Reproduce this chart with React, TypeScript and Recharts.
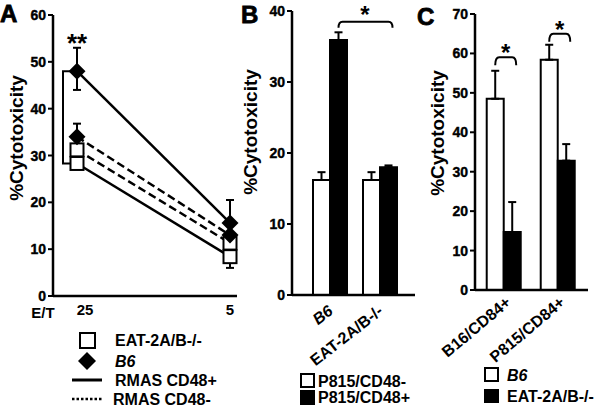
import React from "react";
import { LineChart, Line, BarChart, Bar, XAxis, YAxis, ErrorBar } from "recharts";

const FONT = '"Liberation Sans", Arial, Helvetica, sans-serif';

// A: E/T ratio vs % cytotoxicity on RMAS targets
const ratios = ["25", "5"];
const b6Cd48Pos = [48, 15.6];
const b6Cd48Neg = [34, 13];
const eatCd48Pos = [28.3, 8.4];
const eatCd48Neg = [31.2, 11.3];
// error as [below, above]
const b6Cd48PosErr = [[4, 5], [0, 4.9]];
const b6Cd48NegErr = [[0, 2.8], [0, 0]];
const eatCd48PosErr = [[0, 0], [2.4, 0]];
const eatCd48NegErr = [[0, 0], [0, 0]];
const ticksA = [0, 10, 20, 30, 40, 50, 60];

// B: P815 targets
const effectors = ["B6", "EAT-2A/B-/-"];
const p815Cd48Neg = [16.2, 16.2];
const p815Cd48Pos = [35.9, 18.0];
const p815Cd48NegErr = [1.1, 1.1];
const p815Cd48PosErr = [1.1, 0.25];
const ticksB = [0, 10, 20, 30, 40];

// C: CD84+ targets
const targets = ["B16/CD84+", "P815/CD84+"];
const b6Cd84 = [48.5, 58.4];
const eatCd84 = [14.7, 32.8];
const b6Cd84Err = [7.1, 3.8];
const eatCd84Err = [7.6, 4.2];
const ticksC = [0, 10, 20, 30, 40, 50, 60, 70];

// plot boxes (page px), used for the charts and the annotation overlay
const PA = { left: 53, right: 237, top: 15, bottom: 296, max: 60, padL: 24, padR: 7 };
const PB = { left: 292, right: 415, top: 11, bottom: 295, max: 40, padL: 13, padR: 10, gap: 0.16 };
const PC = { left: 475, right: 588, top: 14, bottom: 290, max: 70, padL: 2, padR: 3, gap: 0.18 };

const yPix = (p: any, v: number) => p.bottom - (v / p.max) * (p.bottom - p.top);
const barCenter = (p: any, group: number, bar: number) => {
  const band = (p.right - p.left - p.padL - p.padR) / 2;
  const off = band * p.gap;
  const w = Math.floor((band - 2 * off) / 2);
  return p.left + p.padL + group * band + off + w * (bar + 0.5);
};

const axisLine = { stroke: "#000", strokeWidth: 2.5 };
const tickLine = { stroke: "#000", strokeWidth: 2 };
const txt = { fontFamily: FONT, fontWeight: 700, fill: "#000" } as const;

const squareDot = (p: any) => (
  <rect key={`sq-${p.dataKey}-${p.index}`} x={p.cx - 6.5} y={p.cy - 6.5} width={13} height={13}
    fill="#fff" stroke="#000" strokeWidth={2} />
);
const diamondDot = (p: any) => (
  <path key={`dm-${p.dataKey}-${p.index}`} fill="#000"
    d={`M${p.cx},${p.cy - 8.5}L${p.cx + 8.5},${p.cy}L${p.cx},${p.cy + 8.5}L${p.cx - 8.5},${p.cy}Z`} />
);

const YTick = (props: any) => {
  const { x, y, payload } = props;
  return (
    <text x={x} y={y} dy="0.36em" textAnchor="end" {...txt} fontSize={14} stroke="#000" strokeWidth={0.4}>
      {payload.value}
    </text>
  );
};

const TickA = (props: any) => {
  const { x, y, payload } = props;
  return (
    <text x={x + (payload.value === "25" ? 8 : 0)} y={y} dy="0.71em" textAnchor="middle" {...txt} fontSize={15}>
      {payload.value}
    </text>
  );
};

const slantTick = (angle: number, dx: number, dy: number) => (props: any) => {
  const { x, y, payload } = props;
  const ax = x + dx;
  const ay = y + dy;
  return (
    <text x={ax} y={ay} transform={`rotate(${angle}, ${ax}, ${ay})`} textAnchor="end" {...txt} fontSize={16}
      fontStyle={payload.value === "B6" ? "italic" : "normal"}>
      {payload.value}
    </text>
  );
};

const bracket = (x1: number, x2: number, y: number, drop: number) =>
  `M${x1},${y + drop} Q${x1},${y} ${x1 + 4},${y} L${x2 - 4},${y} Q${x2},${y} ${x2},${y + drop}`;

export default function App() {
  const rowsA = ratios.map((et, i) => ({
    et,
    b6Pos: b6Cd48Pos[i], b6PosErr: b6Cd48PosErr[i],
    b6Neg: b6Cd48Neg[i], b6NegErr: b6Cd48NegErr[i],
    eatPos: eatCd48Pos[i], eatPosErr: eatCd48PosErr[i],
    eatNeg: eatCd48Neg[i], eatNegErr: eatCd48NegErr[i],
  }));
  const rowsB = effectors.map((name, i) => ({
    name,
    neg: p815Cd48Neg[i], negErr: [0, p815Cd48NegErr[i]],
    pos: p815Cd48Pos[i], posErr: [0, p815Cd48PosErr[i]],
  }));
  const rowsC = targets.map((name, i) => ({
    name,
    b6: b6Cd84[i], b6Err: [0, b6Cd84Err[i]],
    eat: eatCd84[i], eatErr: [0, eatCd84Err[i]],
  }));

  const xA25 = PA.left + PA.padL;
  const bx = PA.left + 10;

  return (
    <div style={{ position: "absolute", left: 0, top: 0, width: 600, height: 411, background: "#fff", overflow: "hidden" }}>
      <div style={{ position: "absolute", left: 0, top: 0 }}>
        <LineChart width={250} height={330} data={rowsA} margin={{ top: PA.top, right: 250 - PA.right, bottom: 4, left: PA.left - 40 }}>
          <XAxis dataKey="et" padding={{ left: PA.padL, right: PA.padR }} height={30} axisLine={axisLine}
            tickLine={false} tick={<TickA />} interval={0} />
          <YAxis domain={[0, 60]} ticks={ticksA} width={40} axisLine={axisLine} tickLine={tickLine}
            tickSize={5} tick={<YTick />} interval={0} />
          <Line dataKey="eatPos" stroke="#000" strokeWidth={2.5} dot={squareDot} isAnimationActive={false}>
            <ErrorBar dataKey="eatPosErr" width={4} stroke="#000" strokeWidth={2} direction="y" />
          </Line>
          <Line dataKey="eatNeg" stroke="#000" strokeWidth={2.5} strokeDasharray="8 4" dot={squareDot} isAnimationActive={false}>
            <ErrorBar dataKey="eatNegErr" width={4} stroke="#000" strokeWidth={2} direction="y" />
          </Line>
          <Line dataKey="b6Neg" stroke="#000" strokeWidth={2.5} strokeDasharray="8 4" dot={diamondDot} isAnimationActive={false}>
            <ErrorBar dataKey="b6NegErr" width={4} stroke="#000" strokeWidth={2} direction="y" />
          </Line>
          <Line dataKey="b6Pos" stroke="#000" strokeWidth={2.5} dot={diamondDot} isAnimationActive={false}>
            <ErrorBar dataKey="b6PosErr" width={4} stroke="#000" strokeWidth={2} direction="y" />
          </Line>
        </LineChart>
      </div>

      <div style={{ position: "absolute", left: 240, top: 0 }}>
        <BarChart width={190} height={380} data={rowsB} barCategoryGap="16%" barGap={0}
          margin={{ top: PB.top, right: 430 - PB.right, bottom: 5, left: PB.left - 240 - 40 }}>
          <XAxis dataKey="name" padding={{ left: PB.padL, right: PB.padR }} height={80} axisLine={axisLine}
            tickLine={false} tick={slantTick(-38, 4, 10)} interval={0} />
          <YAxis domain={[0, 40]} ticks={ticksB} width={40} axisLine={axisLine} tickLine={tickLine}
            tickSize={5} tick={<YTick />} interval={0} />
          <Bar dataKey="neg" fill="#fff" stroke="#000" strokeWidth={2} isAnimationActive={false}>
            <ErrorBar dataKey="negErr" width={4} stroke="#000" strokeWidth={2} direction="y" />
          </Bar>
          <Bar dataKey="pos" fill="#000" stroke="#000" strokeWidth={2} isAnimationActive={false}>
            <ErrorBar dataKey="posErr" width={4} stroke="#000" strokeWidth={2} direction="y" />
          </Bar>
        </BarChart>
      </div>

      <div style={{ position: "absolute", left: 425, top: 0 }}>
        <BarChart width={175} height={380} data={rowsC} barCategoryGap="18%" barGap={0}
          margin={{ top: PC.top, right: 600 - PC.right, bottom: 10, left: PC.left - 425 - 40 }}>
          <XAxis dataKey="name" padding={{ left: PC.padL, right: PC.padR }} height={80} axisLine={axisLine}
            tickLine={false} tick={slantTick(-40, 8, 6)} interval={0} />
          <YAxis domain={[0, 70]} ticks={ticksC} width={40} axisLine={axisLine} tickLine={tickLine}
            tickSize={5} tick={<YTick />} interval={0} />
          <Bar dataKey="b6" fill="#fff" stroke="#000" strokeWidth={2} isAnimationActive={false}>
            <ErrorBar dataKey="b6Err" width={4} stroke="#000" strokeWidth={2} direction="y" />
          </Bar>
          <Bar dataKey="eat" fill="#000" stroke="#000" strokeWidth={2} isAnimationActive={false}>
            <ErrorBar dataKey="eatErr" width={4} stroke="#000" strokeWidth={2} direction="y" />
          </Bar>
        </BarChart>
      </div>

      <svg width={600} height={411} style={{ position: "absolute", left: 0, top: 0, pointerEvents: "none" }}>
        {/* panel letters */}
        <text x={0} y={22} {...txt} fontSize={24} stroke="#000" strokeWidth={0.8}>A</text>
        <text x={241} y={23} {...txt} fontSize={24} stroke="#000" strokeWidth={0.8}>B</text>
        <text x={417} y={25} {...txt} fontSize={24} stroke="#000" strokeWidth={0.8}>C</text>

        {/* y titles */}
        {[[16, 138], [250, 132], [437, 133]].map(([x, y]) => (
          <text key={x} x={x} y={y} transform={`rotate(-90 ${x} ${y})`} textAnchor="middle"
            dominantBaseline="central" {...txt} fontSize={19}>%Cytotoxicity</text>
        ))}

        {/* A: significance */}
        <path d={`M${bx + 8},${yPix(PA, b6Cd48Pos[0])} L${bx},${yPix(PA, b6Cd48Pos[0])} L${bx},${yPix(PA, eatCd48Pos[0])} L${bx + 8},${yPix(PA, eatCd48Pos[0])}`}
          fill="none" stroke="#000" strokeWidth={2} />
        <text x={xA25} y={52} textAnchor="middle" {...txt} fontSize={26}>**</text>
        <text x={43} y={312} textAnchor="middle" dominantBaseline="central" {...txt} fontSize={15}>E/T</text>

        {/* B: significance */}
        <path d={bracket(barCenter(PB, 0, 1), barCenter(PB, 1, 1) + 4, yPix(PB, 38.5), 6)} fill="none" stroke="#000" strokeWidth={2} />
        <text x={365} y={23} textAnchor="middle" {...txt} fontSize={24}>*</text>

        {/* C: significance */}
        {[59, 65].map((lvl, g) => {
          const x1 = barCenter(PC, g, 0);
          const x2 = barCenter(PC, g, 1) + 4;
          return (
            <g key={g}>
              <path d={bracket(x1, x2, yPix(PC, lvl), 8)} fill="none" stroke="#000" strokeWidth={2} />
              <text x={(x1 + x2) / 2} y={yPix(PC, lvl) + 4} textAnchor="middle" {...txt} fontSize={24}>*</text>
            </g>
          );
        })}

        {/* A legend */}
        <rect x={80} y={333} width={15} height={15} fill="#fff" stroke="#000" strokeWidth={2} />
        <text x={115} y={340} dominantBaseline="central" {...txt} fontSize={16}>EAT-2A/B-/-</text>
        <path d="M87,352L96,361L87,370L78,361Z" fill="#000" />
        <text x={115} y={361} dominantBaseline="central" {...txt} fontSize={16} fontStyle="italic">B6</text>
        <line x1={72} x2={102} y1={380} y2={380} stroke="#000" strokeWidth={3} />
        <text x={115} y={380} dominantBaseline="central" {...txt} fontSize={16}>RMAS CD48+</text>
        <line x1={72} x2={103} y1={399} y2={399} stroke="#000" strokeWidth={2.5} strokeDasharray="2.5 2" />
        <text x={113} y={399} dominantBaseline="central" {...txt} fontSize={16}>RMAS CD48-</text>

        {/* B legend */}
        <rect x={301} y={374} width={13} height={13} fill="#fff" stroke="#000" strokeWidth={2} />
        <text x={318} y={381} dominantBaseline="central" {...txt} fontSize={16}>P815/CD48-</text>
        <rect x={300} y={390} width={15} height={15} fill="#000" />
        <text x={318} y={397} dominantBaseline="central" {...txt} fontSize={16}>P815/CD48+</text>

        {/* C legend */}
        <rect x={485} y={368} width={13} height={13} fill="#fff" stroke="#000" strokeWidth={2} />
        <text x={507} y={375} dominantBaseline="central" {...txt} fontSize={16} fontStyle="italic">B6</text>
        <rect x={484} y={389} width={15} height={14} fill="#000" />
        <text x={507} y={396} dominantBaseline="central" {...txt} fontSize={16}>EAT-2A/B-/-</text>
      </svg>
    </div>
  );
}
